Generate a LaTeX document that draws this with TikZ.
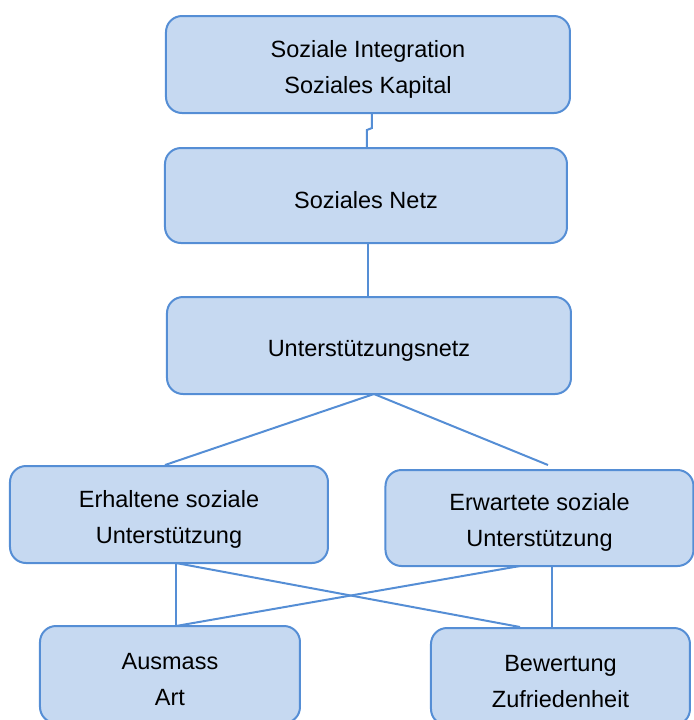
\documentclass[tikz,border=0pt]{standalone}
\usepackage{fontspec}
\setmainfont{Liberation Sans}
\usetikzlibrary{positioning}
\definecolor{boxfill}{RGB}{198,217,241}
\definecolor{boxline}{RGB}{85,142,213}

\begin{document}
\begin{tikzpicture}
[box/.style={rectangle,rounded corners=8pt,draw=boxline,line width=1pt,fill=boxfill,
  minimum width=202pt,minimum height=48.5pt,align=center,outer sep=0pt,text height=13pt,
  font=\fontsize{11.75}{18}\selectfont},
 twoline/.style={box,text height=31pt},
 link/.style={draw=boxline,line width=1pt}]
\clip (-184pt,32.25pt) rectangle (163pt,-327.75pt);
\node[twoline] (integ) at (0,0) {Soziale Integration\\Soziales Kapital};
\node[box,minimum width=201pt,minimum height=47.5pt] (netz) [below=17.5pt of integ,xshift=-1pt] {Soziales Netz};
\node[box] (unterst) [below=27pt of netz,xshift=1.5pt] {Unterstützungsnetz};
\node[twoline,minimum width=159pt] (erhalten) [below=36pt of unterst,xshift=-100pt] {Erhaltene soziale\\Unterstützung};
\node[twoline,minimum width=154pt,minimum height=48pt] (erwartet) [below=38pt of unterst,xshift=85.25pt] {Erwartete soziale\\Unterstützung};
\node[twoline,minimum width=130pt] (ausmass) [below=31.5pt of erhalten,xshift=0.5pt] {Ausmass\\Art};
\node[twoline,minimum width=129.5pt] (bewertung) [below=31pt of erwartet,xshift=10.5pt] {Bewertung\\Zufriedenheit};
\draw[link] ([xshift=2pt]integ.south) -- ++(0,-7.5pt) -- ([xshift=0.5pt,yshift=9pt]netz.north) -- ([xshift=0.5pt]netz.north);
\draw[link] ([xshift=1pt]netz.south) -- ([xshift=1pt]netz.south |- unterst.north);
\draw[link] ([xshift=2.5pt]unterst.south) -- ([xshift=-2pt,yshift=0.5pt]erhalten.north);
\draw[link] ([xshift=2.5pt]unterst.south) -- ([xshift=4.25pt,yshift=2.5pt]erwartet.north);
\draw[link] ([xshift=3.5pt]erhalten.south) -- ([xshift=3.5pt]erhalten.south |- ausmass.north);
\draw[link] ([xshift=3.5pt]erhalten.south) -- ([xshift=-20.25pt,yshift=0.5pt]bewertung.north);
\draw[link] ([xshift=-9.75pt]erwartet.south) -- ([xshift=3pt]ausmass.north);
\draw[link] ([xshift=6.25pt]erwartet.south) -- ([xshift=6.25pt]erwartet.south |- bewertung.north);
\end{tikzpicture}
\end{document}
